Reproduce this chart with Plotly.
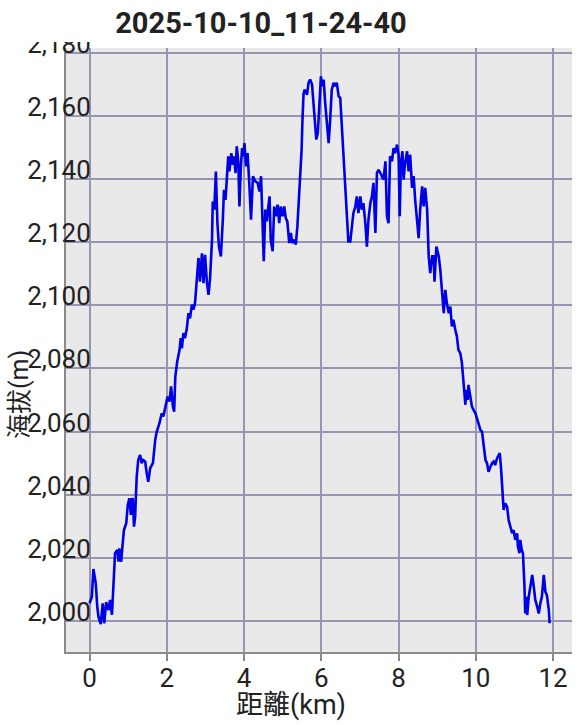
import plotly.graph_objects as go

title_text = "2025-10-10_11-24-40"
x_title = "距離(km)"
y_title = "海拔(m)"

distance_km = [
    0.00, 0.06, 0.10, 0.16, 0.20, 0.23, 0.29, 0.34, 0.38, 0.43, 0.49, 0.53, 0.58, 0.62, 0.66,
    0.72, 0.75, 0.77, 0.82, 0.85, 0.89, 0.95, 0.99, 1.03, 1.07, 1.09, 1.12, 1.15, 1.18, 1.22,
    1.26, 1.31, 1.35, 1.39, 1.44, 1.48, 1.52, 1.57, 1.64, 1.70, 1.74, 1.81, 1.87, 1.91, 1.96,
    2.02, 2.07, 2.11, 2.16, 2.19, 2.22, 2.27, 2.33, 2.36, 2.39, 2.43, 2.47, 2.52, 2.56, 2.60,
    2.65, 2.69, 2.73, 2.78, 2.82, 2.86, 2.91, 2.95, 2.99, 3.04, 3.08, 3.12, 3.17, 3.19, 3.23,
    3.27, 3.31, 3.35, 3.40, 3.45, 3.48, 3.52, 3.55, 3.59, 3.62, 3.67, 3.71, 3.74, 3.78, 3.81,
    3.85, 3.88, 3.92, 3.95, 3.98, 4.01, 4.05, 4.09, 4.13, 4.18, 4.23, 4.29, 4.35, 4.40, 4.44,
    4.48, 4.51, 4.55, 4.59, 4.63, 4.66, 4.69, 4.74, 4.78, 4.82, 4.87, 4.91, 4.95, 5.00, 5.04,
    5.08, 5.12, 5.17, 5.21, 5.25, 5.30, 5.34, 5.38, 5.44, 5.49, 5.51, 5.54, 5.57, 5.63, 5.67,
    5.71, 5.76, 5.80, 5.84, 5.87, 5.91, 5.95, 5.99, 6.02, 6.06, 6.10, 6.15, 6.19, 6.23, 6.27,
    6.32, 6.36, 6.40, 6.45, 6.49, 6.53, 6.58, 6.62, 6.66, 6.70, 6.75, 6.79, 6.83, 6.88, 6.92,
    6.96, 7.01, 7.05, 7.09, 7.14, 7.18, 7.22, 7.27, 7.31, 7.35, 7.40, 7.44, 7.48, 7.53, 7.61,
    7.66, 7.70, 7.74, 7.78, 7.83, 7.87, 7.91, 7.96, 8.00, 8.03, 8.06, 8.10, 8.13, 8.17, 8.22,
    8.26, 8.30, 8.35, 8.39, 8.43, 8.48, 8.52, 8.56, 8.61, 8.65, 8.69, 8.74, 8.78, 8.82, 8.87,
    8.91, 8.93, 8.98, 9.04, 9.08, 9.12, 9.17, 9.21, 9.25, 9.30, 9.34, 9.38, 9.42, 9.47, 9.51,
    9.55, 9.60, 9.64, 9.68, 9.73, 9.75, 9.79, 9.81, 9.86, 9.90, 9.94, 9.99, 10.03, 10.07, 10.12,
    10.16, 10.20, 10.25, 10.29, 10.33, 10.38, 10.42, 10.46, 10.50, 10.55, 10.62, 10.65, 10.68, 10.72, 10.76,
    10.81, 10.85, 10.89, 10.94, 10.98, 11.02, 11.07, 11.09, 11.13, 11.15, 11.19, 11.22, 11.26, 11.28, 11.31,
    11.33, 11.37, 11.41, 11.46, 11.50, 11.54, 11.59, 11.63, 11.67, 11.71, 11.76, 11.80, 11.84, 11.89, 11.91,
]

elevation_m = [
    2005.6, 2007.7, 2016.5, 2012.0, 2004.5, 2001.4, 1999.0, 2005.6, 1999.3, 2006.0, 2003.5, 2006.7, 2002.0, 2010.9, 2021.5,
    2022.5, 2018.8, 2023.0, 2018.8, 2023.5, 2028.8, 2031.0, 2036.8, 2038.9, 2033.6, 2038.4, 2038.9, 2029.9, 2033.0, 2045.7,
    2051.0, 2052.6, 2050.0, 2051.0, 2050.5, 2046.8, 2044.1, 2048.4, 2050.0, 2057.4, 2060.0, 2062.7, 2065.8, 2064.8, 2067.4,
    2071.1, 2069.5, 2074.3, 2067.9, 2066.3, 2077.4, 2082.2, 2085.9, 2089.6, 2086.4, 2091.2, 2089.6, 2092.8, 2097.5, 2095.9,
    2100.2, 2098.6, 2100.7, 2110.2, 2115.0, 2107.5, 2116.5, 2107.0, 2116.0, 2107.0, 2103.3, 2108.6, 2120.8, 2132.9, 2130.3,
    2142.4, 2126.0, 2118.6, 2115.5, 2127.1, 2136.6, 2133.4, 2140.3, 2147.2, 2142.4, 2148.2, 2144.5, 2147.2, 2141.9, 2150.4,
    2145.6, 2131.3, 2144.5, 2149.8, 2147.2, 2151.4, 2144.0, 2148.2, 2139.8, 2127.1, 2140.9, 2139.3, 2138.8, 2136.1, 2140.9,
    2127.1, 2114.0, 2130.3, 2126.6, 2131.3, 2134.5, 2120.8, 2117.1, 2131.3, 2128.2, 2131.9, 2126.0, 2131.3, 2128.2, 2131.3,
    2127.6, 2126.6, 2119.7, 2122.9, 2119.7, 2120.8, 2119.2, 2125.0, 2136.6, 2149.3, 2158.0, 2167.0, 2168.3, 2166.7, 2170.5,
    2171.5, 2169.9, 2164.1, 2156.7, 2152.5, 2154.6, 2164.1, 2172.5, 2169.4, 2171.5, 2164.1, 2156.7, 2151.4, 2158.8, 2168.3,
    2170.5, 2169.4, 2170.5, 2166.2, 2165.7, 2156.7, 2146.1, 2135.5, 2127.1, 2120.2, 2120.2, 2125.0, 2129.2, 2131.3, 2134.5,
    2129.2, 2134.5, 2130.3, 2132.4, 2126.0, 2118.6, 2127.1, 2132.4, 2134.5, 2138.8, 2122.9, 2141.9, 2142.9, 2141.9, 2139.8,
    2145.6, 2128.2, 2126.0, 2147.2, 2145.6, 2149.8, 2148.2, 2150.9, 2147.7, 2128.2, 2145.1, 2148.8, 2139.8, 2145.1, 2148.8,
    2142.4, 2147.7, 2137.2, 2140.9, 2133.4, 2127.1, 2121.3, 2130.3, 2137.7, 2131.3, 2137.2, 2130.3, 2115.5, 2110.2, 2115.5,
    2115.5, 2107.5, 2118.6, 2115.5, 2111.3, 2103.9, 2097.5, 2104.9, 2100.7, 2097.5, 2099.6, 2093.3, 2095.4, 2092.2, 2090.1,
    2085.9, 2084.8, 2081.7, 2075.3, 2068.5, 2073.2, 2070.0, 2074.8, 2070.0, 2067.9, 2066.9, 2065.8, 2064.2, 2062.7, 2060.5,
    2060.0, 2055.2, 2051.0, 2050.0, 2047.3, 2048.9, 2050.0, 2050.5, 2049.4, 2051.6, 2053.2, 2048.9, 2043.7, 2035.2, 2037.3,
    2036.2, 2032.0, 2029.9, 2027.8, 2028.8, 2025.7, 2027.8, 2023.5, 2021.5, 2025.7, 2022.5, 2021.5, 2010.9, 2002.4, 2007.7,
    2001.9, 2007.7, 2010.9, 2014.6, 2010.9, 2006.7, 2004.5, 2002.4, 2005.6, 2007.7, 2014.6, 2009.3, 2008.2, 2003.5, 1999.3,
]

x_tick_values = [0, 2, 4, 6, 8, 10, 12]
y_tick_values = [2000, 2020, 2040, 2060, 2080, 2100, 2120, 2140, 2160, 2180]

FONT = "Roboto, 'Noto Sans CJK TC', sans-serif"

fig = go.Figure()
fig.add_trace(go.Scatter(
    x=distance_km, y=elevation_m, mode="lines",
    line=dict(color="#0000e6", width=2.6),
    hoverinfo="skip", showlegend=False,
))

fig.update_layout(
    width=579, height=725,
    margin=dict(l=66, r=7, t=48, b=73, autoexpand=False),
    paper_bgcolor="white",
    plot_bgcolor="#e9e9ea",
    font=dict(family=FONT, color="#222222", size=24),
    title=dict(text="<b>" + title_text + "</b>", x=(261 - 66) / 506, xref="paper", xanchor="center",
               y=1 - 23 / 725, yref="container", yanchor="middle", automargin=False,
               font=dict(family=FONT, size=29, color="#222222")),
    xaxis=dict(
        range=[-0.61, 12.49], tickvals=x_tick_values, automargin=False,
        showgrid=True, gridcolor="#9696b2", gridwidth=1.5,
        zeroline=False, showline=True, linecolor="#8a8a8a", linewidth=2,
        ticks="outside", ticklen=7, tickcolor="#8a8a8a", tickwidth=2,
        ticklabelstandoff=-5,
        tickfont=dict(size=26, family=FONT, color="#222222"),
    ),
    yaxis=dict(
        range=[1990.2, 2181.5], tickvals=y_tick_values, tickformat=",d", automargin=False,
        showgrid=True, gridcolor="#9696b2", gridwidth=1.5,
        zeroline=False, showline=True, linecolor="#8a8a8a", linewidth=2,
        ticks="", ticklabelposition="outside top", ticklabelstandoff=-32, ticklabelshift=9,
        tickfont=dict(size=26, family=FONT, color="#222222"),
    ),
    shapes=[dict(type="rect", xref="paper", yref="paper", x0=-0.14, x1=1.02,
                 y0=(652 - 42) / 604, y1=1.1, fillcolor="white", line=dict(width=0), layer="above")],
    annotations=[
        dict(text=x_title, xref="paper", yref="paper", x=(291 - 66) / 506, y=(652 - 705) / 604,
             xanchor="center", yanchor="middle", showarrow=False,
             font=dict(family=FONT, size=27, color="#222222")),
        dict(text=y_title, xref="paper", yref="paper", x=(19 - 66) / 506, y=(652 - 395) / 604,
             xanchor="center", yanchor="middle", showarrow=False, textangle=-90,
             font=dict(family=FONT, size=25, color="#222222")),
    ],
)

fig.write_html("out.html", config={"displayModeBar": False},
               post_script="document.body.style.margin='0px';")
